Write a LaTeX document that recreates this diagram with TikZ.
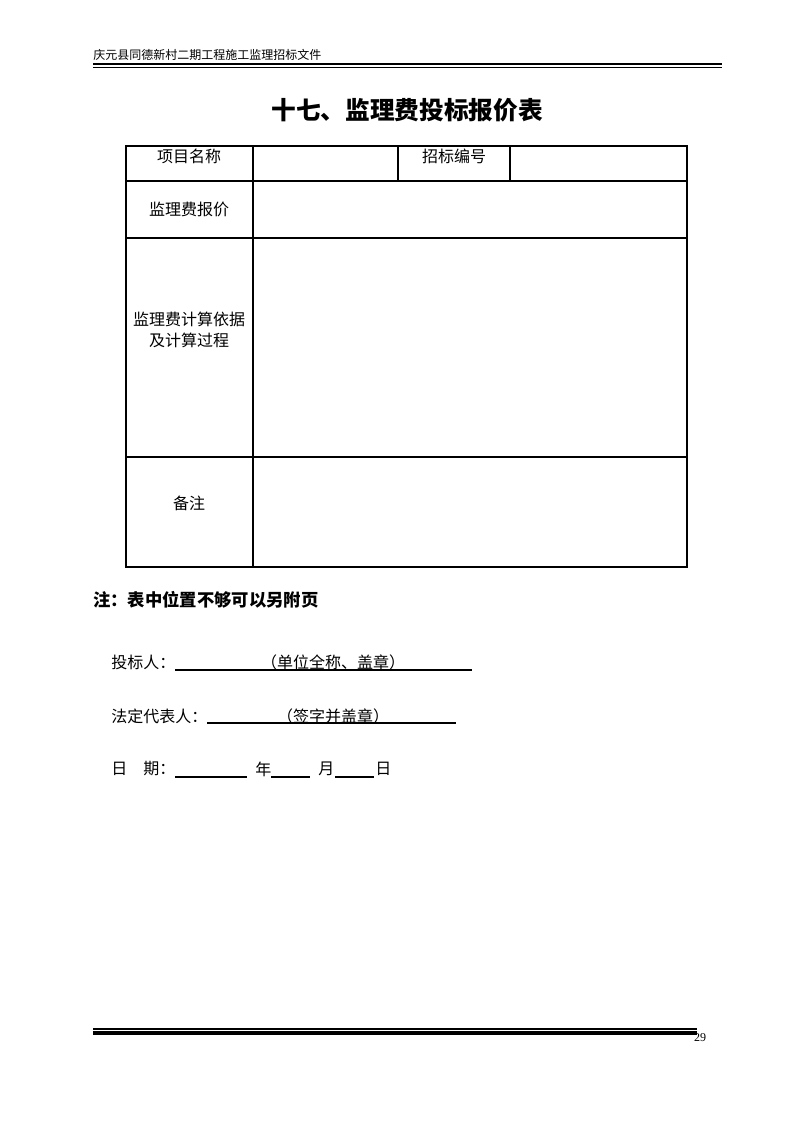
\documentclass[tikz,border=0pt]{standalone}
\usepackage{fontspec}
\newfontfamily\cjk{Noto Sans CJK SC}
\newfontfamily\numfont{Liberation Serif}
\begin{document}
\begin{tikzpicture}[x=0.75pt,y=-0.75pt,
  cell/.style={font=\cjk\fontsize{12pt}{16pt}\selectfont, inner sep=0pt, align=center},
  sig/.style={font=\cjk\fontsize{12pt}{15pt}\selectfont, inner sep=0pt, anchor=west},
  grid/.style={line width=0.8pt, black},
  uline/.style={line width=0.8pt, black}]
\useasboundingbox[fill=white] (0,0) rectangle (794,1123);
% header
\node[font=\cjk\fontsize{9pt}{11pt}\selectfont, anchor=west, inner sep=0pt] (hdr) at (93,55) {庆元县同德新村二期工程施工监理招标文件};
\fill (93,63) rectangle (722,65.5);
\draw[line width=0.8pt] (93,67.3) -- (722,67.3);
% title
\node[font=\cjk\bfseries\fontsize{18.5pt}{22pt}\selectfont, inner sep=0pt] (title) at (407,110) {十七、监理费投标报价表};
% table
\draw[grid] (126,146) rectangle (687,567);
\draw[grid] (126,181) -- (687,181);
\draw[grid] (126,238) -- (687,238);
\draw[grid] (126,457) -- (687,457);
\draw[grid] (253,146) -- (253,567);
\draw[grid] (398,146) -- (398,181);
\draw[grid] (510,146) -- (510,181);
\node[cell] (c1) at (189,156) {项目名称};
\node[cell] (c2) at (454,156) {招标编号};
\node[cell] (c3) at (189,209) {监理费报价};
\node[cell] (c4) at (189,330) {监理费计算依据\\[0pt]及计算过程};
\node[cell] (c5) at (189,503) {备注};
% note
\node[font=\cjk\bfseries\fontsize{13pt}{15pt}\selectfont, anchor=west, inner sep=0pt] (note) at (93,600) {注：表中位置不够可以另附页};
% signature lines
\node[sig] (s1) at (111,662) {投标人：};
\draw[uline] (175,670) -- (472,670);
\node[sig, anchor=center] (s1b) at (333,662) {（单位全称、盖章）};
\node[sig] (s2) at (111,716) {法定代表人：};
\draw[uline] (207,723) -- (456,723);
\node[sig, anchor=center] (s2b) at (333,716) {（签字并盖章）};
\node[sig] (s3) at (111,769) {日\hspace{1em}期：};
\draw[uline] (175,777) -- (247,777);
\node[sig] (s4) at (255,769) {年};
\draw[uline] (271,777) -- (310,777);
\node[sig] (s5) at (318,769) {月};
\draw[uline] (335,777) -- (374,777);
\node[sig] (s6) at (375,769) {日};
% footer
\draw[line width=0.8pt] (93,1029) -- (697,1029);
\fill (93,1031) rectangle (697,1034.5);
\node[font=\numfont\fontsize{9pt}{10pt}\selectfont, inner sep=0pt] (pg) at (700,1038) {29};
\end{tikzpicture}
\end{document}
